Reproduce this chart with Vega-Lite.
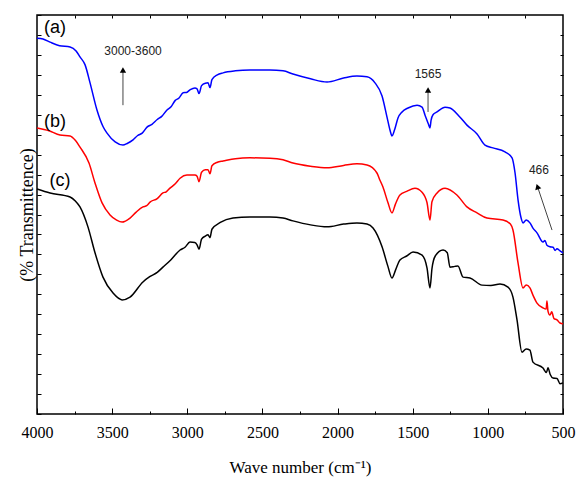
{
  "$schema": "https://vega.github.io/schema/vega-lite/v6.json",
  "width": 526,
  "height": 399,
  "autosize": {"type": "none"},
  "padding": {"left": 37, "top": 15, "right": 14, "bottom": 67},
  "background": "white",
  "config": {
    "font": "Liberation Serif",
    "view": {"stroke": "#000", "strokeWidth": 1.5},
    "style": {"guide-label": {"font": "Liberation Serif"}, "guide-title": {"font": "Liberation Serif"}},
    "axis": {"domain": false, "grid": false, "tickColor": "#000", "tickWidth": 1, "labelFont": "Liberation Serif", "titleFont": "Liberation Serif", "labelColor": "#000", "titleColor": "#000", "titleFontWeight": "normal", "labelFlush": false}
  },
  "datasets": {
    "spectra": [
      {"s":"a","wn":4000,"T":94.2},{"s":"a","wn":3960,"T":94.0},{"s":"a","wn":3913,"T":93.2},{"s":"a","wn":3850,"T":92.3},{"s":"a","wn":3780,"T":92.0},{"s":"a","wn":3740,"T":91.0},{"s":"a","wn":3714,"T":89.5},{"s":"a","wn":3680,"T":87.5},{"s":"a","wn":3647,"T":83.0},{"s":"a","wn":3601,"T":76.2},{"s":"a","wn":3560,"T":72.0},{"s":"a","wn":3534,"T":70.4},{"s":"a","wn":3480,"T":68.2},{"s":"a","wn":3428,"T":67.4},{"s":"a","wn":3400,"T":67.8},{"s":"a","wn":3361,"T":68.7},{"s":"a","wn":3330,"T":69.8},{"s":"a","wn":3300,"T":70.4},{"s":"a","wn":3268,"T":71.9},{"s":"a","wn":3235,"T":72.6},{"s":"a","wn":3200,"T":73.8},{"s":"a","wn":3170,"T":74.6},{"s":"a","wn":3135,"T":76.2},{"s":"a","wn":3108,"T":77.0},{"s":"a","wn":3080,"T":78.6},{"s":"a","wn":3055,"T":79.2},{"s":"a","wn":3028,"T":80.5},{"s":"a","wn":3005,"T":80.6},{"s":"a","wn":2980,"T":81.3},{"s":"a","wn":2949,"T":81.7},{"s":"a","wn":2935,"T":81.5},{"s":"a","wn":2922,"T":80.3},{"s":"a","wn":2905,"T":82.3},{"s":"a","wn":2880,"T":82.9},{"s":"a","wn":2862,"T":83.0},{"s":"a","wn":2849,"T":81.8},{"s":"a","wn":2836,"T":83.8},{"s":"a","wn":2800,"T":85.0},{"s":"a","wn":2762,"T":85.5},{"s":"a","wn":2680,"T":86.0},{"s":"a","wn":2583,"T":86.2},{"s":"a","wn":2450,"T":86.2},{"s":"a","wn":2363,"T":86.0},{"s":"a","wn":2297,"T":85.2},{"s":"a","wn":2180,"T":84.0},{"s":"a","wn":2070,"T":83.2},{"s":"a","wn":1960,"T":84.2},{"s":"a","wn":1871,"T":84.7},{"s":"a","wn":1804,"T":84.5},{"s":"a","wn":1751,"T":83.0},{"s":"a","wn":1704,"T":79.7},{"s":"a","wn":1671,"T":74.4},{"s":"a","wn":1650,"T":71.0},{"s":"a","wn":1638,"T":69.7},{"s":"a","wn":1620,"T":71.3},{"s":"a","wn":1598,"T":74.2},{"s":"a","wn":1571,"T":75.7},{"s":"a","wn":1531,"T":76.7},{"s":"a","wn":1471,"T":77.4},{"s":"a","wn":1438,"T":76.9},{"s":"a","wn":1418,"T":74.9},{"s":"a","wn":1395,"T":72.6},{"s":"a","wn":1385,"T":71.7},{"s":"a","wn":1378,"T":73.6},{"s":"a","wn":1365,"T":75.0},{"s":"a","wn":1338,"T":75.7},{"s":"a","wn":1285,"T":76.9},{"s":"a","wn":1252,"T":76.7},{"s":"a","wn":1185,"T":74.4},{"s":"a","wn":1139,"T":72.4},{"s":"a","wn":1072,"T":70.2},{"s":"a","wn":1019,"T":67.4},{"s":"a","wn":966,"T":66.7},{"s":"a","wn":886,"T":65.7},{"s":"a","wn":839,"T":64.2},{"s":"a","wn":819,"T":60.4},{"s":"a","wn":799,"T":53.6},{"s":"a","wn":780,"T":49.3},{"s":"a","wn":766,"T":47.9},{"s":"a","wn":745,"T":48.6},{"s":"a","wn":720,"T":47.9},{"s":"a","wn":700,"T":46.6},{"s":"a","wn":673,"T":45.4},{"s":"a","wn":633,"T":43.1},{"s":"a","wn":620,"T":43.5},{"s":"a","wn":607,"T":42.3},{"s":"a","wn":587,"T":41.9},{"s":"a","wn":566,"T":41.8},{"s":"a","wn":553,"T":41.0},{"s":"a","wn":540,"T":41.4},{"s":"a","wn":520,"T":40.9},{"s":"a","wn":500,"T":40.4},
      {"s":"b","wn":4000,"T":71.7},{"s":"b","wn":3920,"T":71.0},{"s":"b","wn":3847,"T":69.9},{"s":"b","wn":3780,"T":69.7},{"s":"b","wn":3745,"T":68.6},{"s":"b","wn":3714,"T":66.9},{"s":"b","wn":3654,"T":62.9},{"s":"b","wn":3614,"T":57.9},{"s":"b","wn":3567,"T":52.9},{"s":"b","wn":3514,"T":49.9},{"s":"b","wn":3470,"T":48.6},{"s":"b","wn":3434,"T":48.1},{"s":"b","wn":3381,"T":49.1},{"s":"b","wn":3340,"T":50.6},{"s":"b","wn":3295,"T":51.9},{"s":"b","wn":3270,"T":52.2},{"s":"b","wn":3248,"T":53.1},{"s":"b","wn":3200,"T":54.0},{"s":"b","wn":3162,"T":55.4},{"s":"b","wn":3140,"T":55.7},{"s":"b","wn":3115,"T":56.6},{"s":"b","wn":3080,"T":57.7},{"s":"b","wn":3048,"T":59.1},{"s":"b","wn":3002,"T":59.9},{"s":"b","wn":2949,"T":59.9},{"s":"b","wn":2935,"T":59.6},{"s":"b","wn":2922,"T":58.2},{"s":"b","wn":2905,"T":60.6},{"s":"b","wn":2880,"T":61.2},{"s":"b","wn":2862,"T":61.2},{"s":"b","wn":2849,"T":60.2},{"s":"b","wn":2836,"T":62.2},{"s":"b","wn":2800,"T":63.1},{"s":"b","wn":2762,"T":63.4},{"s":"b","wn":2680,"T":64.0},{"s":"b","wn":2583,"T":64.2},{"s":"b","wn":2450,"T":64.1},{"s":"b","wn":2363,"T":63.7},{"s":"b","wn":2297,"T":62.9},{"s":"b","wn":2180,"T":62.1},{"s":"b","wn":2070,"T":61.7},{"s":"b","wn":1960,"T":62.3},{"s":"b","wn":1871,"T":62.7},{"s":"b","wn":1804,"T":62.4},{"s":"b","wn":1738,"T":60.4},{"s":"b","wn":1718,"T":58.6},{"s":"b","wn":1698,"T":56.9},{"s":"b","wn":1665,"T":53.0},{"s":"b","wn":1638,"T":50.4},{"s":"b","wn":1615,"T":52.6},{"s":"b","wn":1585,"T":54.9},{"s":"b","wn":1540,"T":55.8},{"s":"b","wn":1485,"T":56.6},{"s":"b","wn":1438,"T":55.6},{"s":"b","wn":1405,"T":53.0},{"s":"b","wn":1385,"T":48.6},{"s":"b","wn":1372,"T":53.2},{"s":"b","wn":1338,"T":55.4},{"s":"b","wn":1285,"T":56.6},{"s":"b","wn":1206,"T":54.9},{"s":"b","wn":1139,"T":51.9},{"s":"b","wn":1072,"T":50.4},{"s":"b","wn":1006,"T":49.1},{"s":"b","wn":899,"T":48.6},{"s":"b","wn":850,"T":47.6},{"s":"b","wn":833,"T":46.1},{"s":"b","wn":799,"T":37.8},{"s":"b","wn":766,"T":31.6},{"s":"b","wn":745,"T":32.3},{"s":"b","wn":720,"T":31.6},{"s":"b","wn":700,"T":29.8},{"s":"b","wn":673,"T":27.8},{"s":"b","wn":633,"T":26.6},{"s":"b","wn":612,"T":26.3},{"s":"b","wn":607,"T":28.3},{"s":"b","wn":600,"T":25.8},{"s":"b","wn":587,"T":24.8},{"s":"b","wn":575,"T":25.6},{"s":"b","wn":560,"T":23.9},{"s":"b","wn":540,"T":23.6},{"s":"b","wn":520,"T":22.8},{"s":"b","wn":500,"T":22.6},
      {"s":"c","wn":4000,"T":56.4},{"s":"c","wn":3913,"T":55.4},{"s":"c","wn":3780,"T":54.4},{"s":"c","wn":3745,"T":53.4},{"s":"c","wn":3714,"T":51.9},{"s":"c","wn":3661,"T":46.9},{"s":"c","wn":3614,"T":40.4},{"s":"c","wn":3561,"T":34.3},{"s":"c","wn":3494,"T":30.3},{"s":"c","wn":3434,"T":28.6},{"s":"c","wn":3381,"T":29.3},{"s":"c","wn":3295,"T":33.1},{"s":"c","wn":3250,"T":34.4},{"s":"c","wn":3200,"T":35.5},{"s":"c","wn":3162,"T":36.8},{"s":"c","wn":3110,"T":38.6},{"s":"c","wn":3048,"T":41.1},{"s":"c","wn":3015,"T":41.8},{"s":"c","wn":2982,"T":43.1},{"s":"c","wn":2950,"T":43.0},{"s":"c","wn":2935,"T":42.4},{"s":"c","wn":2922,"T":41.3},{"s":"c","wn":2905,"T":43.8},{"s":"c","wn":2880,"T":44.6},{"s":"c","wn":2862,"T":44.9},{"s":"c","wn":2849,"T":44.2},{"s":"c","wn":2836,"T":46.3},{"s":"c","wn":2780,"T":48.0},{"s":"c","wn":2696,"T":49.1},{"s":"c","wn":2583,"T":49.4},{"s":"c","wn":2450,"T":49.4},{"s":"c","wn":2363,"T":49.1},{"s":"c","wn":2297,"T":48.4},{"s":"c","wn":2180,"T":47.4},{"s":"c","wn":2070,"T":46.9},{"s":"c","wn":1960,"T":47.6},{"s":"c","wn":1871,"T":47.9},{"s":"c","wn":1804,"T":47.6},{"s":"c","wn":1764,"T":46.6},{"s":"c","wn":1704,"T":41.9},{"s":"c","wn":1665,"T":37.0},{"s":"c","wn":1638,"T":34.1},{"s":"c","wn":1615,"T":36.0},{"s":"c","wn":1585,"T":38.6},{"s":"c","wn":1540,"T":39.6},{"s":"c","wn":1498,"T":40.6},{"s":"c","wn":1438,"T":39.8},{"s":"c","wn":1405,"T":36.6},{"s":"c","wn":1385,"T":31.6},{"s":"c","wn":1372,"T":36.4},{"s":"c","wn":1350,"T":39.6},{"s":"c","wn":1298,"T":41.1},{"s":"c","wn":1270,"T":40.4},{"s":"c","wn":1252,"T":36.8},{"s":"c","wn":1220,"T":37.0},{"s":"c","wn":1199,"T":37.1},{"s":"c","wn":1165,"T":34.3},{"s":"c","wn":1119,"T":34.1},{"s":"c","wn":1039,"T":32.3},{"s":"c","wn":980,"T":32.2},{"s":"c","wn":919,"T":32.6},{"s":"c","wn":866,"T":31.8},{"s":"c","wn":833,"T":29.3},{"s":"c","wn":806,"T":23.6},{"s":"c","wn":773,"T":15.5},{"s":"c","wn":745,"T":16.3},{"s":"c","wn":720,"T":16.0},{"s":"c","wn":700,"T":13.0},{"s":"c","wn":633,"T":11.5},{"s":"c","wn":610,"T":10.4},{"s":"c","wn":600,"T":11.6},{"s":"c","wn":585,"T":9.9},{"s":"c","wn":566,"T":9.0},{"s":"c","wn":540,"T":8.9},{"s":"c","wn":520,"T":7.6},{"s":"c","wn":500,"T":7.8}
    ],
    "labels": [
      {"wn":3880,"T":96.7,"txt":"(a)"},
      {"wn":3880,"T":73.2,"txt":"(b)"},
      {"wn":3847,"T":58.4,"txt":"(c)"}
    ],
    "notes": [
      {"wn":3361,"T":91.0,"txt":"3000-3600"},
      {"wn":1398,"T":85.2,"txt":"1565"},
      {"wn":660,"T":61.2,"txt":"466"}
    ],
    "arrows": [
      {"wn1":3428,"T1":77.4,"wn2":3428,"T2":86.0},
      {"wn1":1398,"T1":75.7,"wn2":1398,"T2":81.0},
      {"wn1":573,"T1":46.1,"wn2":668,"T2":56.8}
    ],
    "headsUp": [
      {"wn":3428,"T":86.2},
      {"wn":1398,"T":81.2}
    ],
    "headsTilt": [
      {"wn":670,"T":57.0}
    ]
  },
  "resolve": {"axis": {"x": "independent", "y": "independent"}},
  "layer": [
    {
      "data": {"name": "spectra"},
      "mark": {"type": "line", "strokeWidth": 1.5, "interpolate": "monotone"},
      "encoding": {
        "x": {"field": "wn", "type": "quantitative", "scale": {"domain": [500, 4000], "reverse": true, "nice": false, "zero": false},
              "axis": {"orient": "bottom", "values": [4000,3500,3000,2500,2000,1500,1000,500], "format": "d", "tickSize": -6, "labelPadding": 16, "labelFont": "Liberation Serif", "labelFontSize": 16, "labelFlush": false, "title": "Wave number (cm⁻¹)", "titleFontSize": 17, "titlePadding": 19}},
        "y": {"field": "T", "type": "quantitative", "scale": {"domain": [0, 100], "nice": false, "zero": false},
              "axis": {"orient": "left", "values": [0,5,10,15,20,25,30,35,40,45,50,55,60,65,70,75,80,85,90,95,100], "labels": false, "tickSize": -4, "title": "(% Transmittence)", "titleFontSize": 18, "titlePadding": 0}},
        "color": {"field": "s", "type": "nominal", "scale": {"domain": ["a","b","c"], "range": ["#0000ff","#ff0000","#000000"]}, "legend": null},
        "order": {"field": "wn", "sort": "descending"}
      }
    },
    {
      "data": {"name": "labels"},
      "mark": {"type": "text", "font": "Liberation Sans", "fontSize": 18, "color": "#000"},
      "encoding": {
        "x": {"field": "wn", "type": "quantitative", "axis": {"orient": "top", "values": [3750,3500,3250,3000,2750,2500,2250,2000,1750,1500,1250,1000,750], "labels": false, "tickSize": -3, "title": null}},
        "y": {"field": "T", "type": "quantitative", "axis": {"orient": "right", "values": [5,10,15,20,25,30,35,40,45,50,55,60,65,70,75,80,85,90,95], "labels": false, "tickSize": -3, "title": null}},
        "text": {"field": "txt"}
      }
    },
    {
      "data": {"name": "notes"},
      "mark": {"type": "text", "font": "Liberation Sans", "fontSize": 12, "color": "#222"},
      "encoding": {
        "x": {"field": "wn", "type": "quantitative", "axis": {"orient": "bottom", "values": [3750,3250,2750,2250,1750,1250,750], "labels": false, "tickSize": -3, "title": null}},
        "y": {"field": "T", "type": "quantitative", "axis": null},
        "text": {"field": "txt"}
      }
    },
    {
      "data": {"name": "arrows"},
      "mark": {"type": "rule", "color": "#444", "strokeWidth": 1},
      "encoding": {
        "x": {"field": "wn1", "type": "quantitative", "axis": null},
        "y": {"field": "T1", "type": "quantitative", "axis": null},
        "x2": {"field": "wn2"},
        "y2": {"field": "T2"}
      }
    },
    {
      "data": {"name": "headsUp"},
      "mark": {"type": "point", "shape": "triangle-up", "filled": true, "color": "#000", "size": 40, "opacity": 1},
      "encoding": {
        "x": {"field": "wn", "type": "quantitative", "axis": null},
        "y": {"field": "T", "type": "quantitative", "axis": null}
      }
    },
    {
      "data": {"name": "headsTilt"},
      "mark": {"type": "point", "shape": "triangle-up", "filled": true, "color": "#000", "size": 40, "opacity": 1, "angle": 342},
      "encoding": {
        "x": {"field": "wn", "type": "quantitative", "axis": null},
        "y": {"field": "T", "type": "quantitative", "axis": null}
      }
    }
  ]
}
